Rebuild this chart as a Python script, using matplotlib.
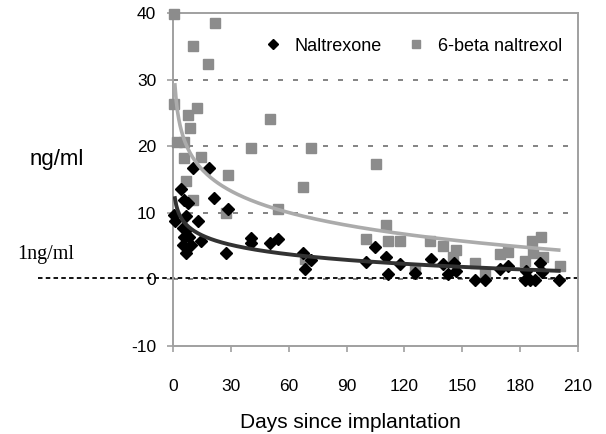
import numpy as np
import matplotlib
matplotlib.use("Agg")
import matplotlib.pyplot as plt
import matplotlib.transforms as mtransforms

# Naltrexone (black diamonds): days since implantation, ng/ml
nal_days = [0.5, 1, 4.1, 5, 5, 5.9, 5.9, 6.5, 6.5, 6.5, 7.6, 8.5, 9.3, 10.2, 12.8,
            14.5, 18.5, 21.3, 27.5, 28.4, 40.4, 40.4, 50.3, 54.6, 67.6, 68.4, 71.5,
            100.3, 104.7, 110.6, 111.6, 117.7, 125.5, 133.6, 139.8, 142.5, 145.8,
            146.7, 156.6, 162, 169.5, 173.8, 182.5, 183, 185, 187.5, 190.5, 191.2, 200.4]
nal_conc = [9.7, 8.8, 13.5, 7.7, 5.2, 11.9, 6.4, 9.5, 7.4, 3.9, 11.4, 6.4, 5.2, 16.8, 8.8,
            5.7, 16.7, 12.2, 4.0, 10.5, 6.2, 5.4, 5.4, 6.0, 3.9, 1.5, 2.9,
            2.6, 4.9, 3.3, 0.8, 2.3, 0.9, 3.0, 2.3, 0.8, 2.4,
            1.3, -0.1, -0.1, 1.6, 2.0, -0.1, 1.3, -0.1, -0.1, 2.4, 1.1, -0.1]

# 6-beta naltrexol (grey squares)
nol_days = [0.5, 0.5, 1.9, 5.9, 5.9, 6.5, 7.6, 8.6, 10.2, 10.3, 12.7, 14.5, 18.1, 21.8,
            27.5, 28.4, 40.4, 50.3, 54.6, 67.6, 68.4, 71.5, 100.3, 105.2, 110.6, 111.6,
            117.7, 125.5, 133.5, 139.8, 145.2, 146.7, 156.6, 162, 169.8, 173.8, 182.5,
            186, 186.8, 190.6, 192, 200.5]
nol_conc = [39.8, 26.3, 20.7, 20.7, 18.2, 14.7, 24.7, 22.7, 11.9, 35.0, 25.7, 18.4, 32.4, 38.5,
            9.9, 15.7, 19.7, 24.1, 10.5, 13.9, 3.0, 19.8, 6.0, 17.4, 8.2, 5.8,
            5.8, 1.6, 5.7, 5.0, 3.3, 4.4, 2.4, 0.9, 3.8, 4.1, 2.7,
            5.7, 3.9, 6.3, 3.4, 2.0]

# logarithmic trendlines y = a + b*ln(x), coefficients
nal_trend = (12.2, -2.06)
nol_trend = (29.2, -4.68)
trend_range = (1, 200)

x_ticks = [0, 30, 60, 90, 120, 150, 180, 210]
y_ticks = [-10, 0, 10, 20, 30, 40]

plt.rcParams['font.family'] = ['Liberation Sans', 'DejaVu Sans']
plt.rcParams['axes.unicode_minus'] = False

fig = plt.figure(figsize=(6.06, 4.34), dpi=100)
ax = fig.add_axes([173 / 606, 1 - 346 / 434, 405 / 606, 333 / 434])

grid_col = '#6e6e6e'
for yv in [0, 10, 20, 30]:
    ax.axhline(yv, color=grid_col, lw=1.2, ls=(0, (3, 6)), zorder=1)

# 1 ng/ml reference line, extending left of the axes
trans = mtransforms.blended_transform_factory(ax.transAxes, ax.transData)
ax.plot([-0.333, 1.0], [0.25, 0.25], transform=trans, color='black', lw=1.3,
        ls=(0, (2.5, 1.8)), clip_on=False, zorder=2)

ax.plot(nol_days, nol_conc, ls='none', marker='s', ms=7.5, color='#8c8c8c',
        mec='#8c8c8c', label='6-beta naltrexol', zorder=3, clip_on=False)
ax.plot(nal_days, nal_conc, ls='none', marker='D', ms=6.5, color='black',
        label='Naltrexone', zorder=4, clip_on=False)

xs = np.linspace(trend_range[0], trend_range[1], 300)
ax.plot(xs, nol_trend[0] + nol_trend[1] * np.log(xs), color='#ababab', lw=2.6, zorder=5)
ax.plot(xs, nal_trend[0] + nal_trend[1] * np.log(xs), color='#333333', lw=2.8, zorder=5)

ax.set_xlim(0, 210)
ax.set_ylim(-10, 40)
ax.set_xticks(x_ticks)
ax.set_yticks(y_ticks)
for s in ax.spines.values():
    s.set_color('#a0a0a0')
    s.set_linewidth(1.4)
ax.tick_params(axis='both', colors='#a0a0a0', labelcolor='black', labelsize=12.5,
               length=4, width=1.2, direction='out')
ax.tick_params(axis='x', pad=20)
ax.tick_params(axis='y', pad=8)

h, l = ax.get_legend_handles_labels()
leg = ax.legend([h[1], h[0]], [l[1], l[0]], loc='center', bbox_to_anchor=(0.59, 0.90),
                ncol=2, frameon=False, fontsize=13, markerscale=0.75,
                handlelength=1.2, handletextpad=0.6, columnspacing=1.3)

fig.text(57 / 606, 1 - 160 / 434, 'ng/ml', fontsize=16, ha='center', va='center')
fig.text(46 / 606, 1 - 255 / 434, '1ng/ml', fontsize=14.5, ha='center', va='center',
         family='Liberation Serif')
fig.text(350 / 606, 1 - 423 / 434, 'Days since implantation', fontsize=15,
         ha='center', va='center')

fig.savefig('out.png', dpi=100)
